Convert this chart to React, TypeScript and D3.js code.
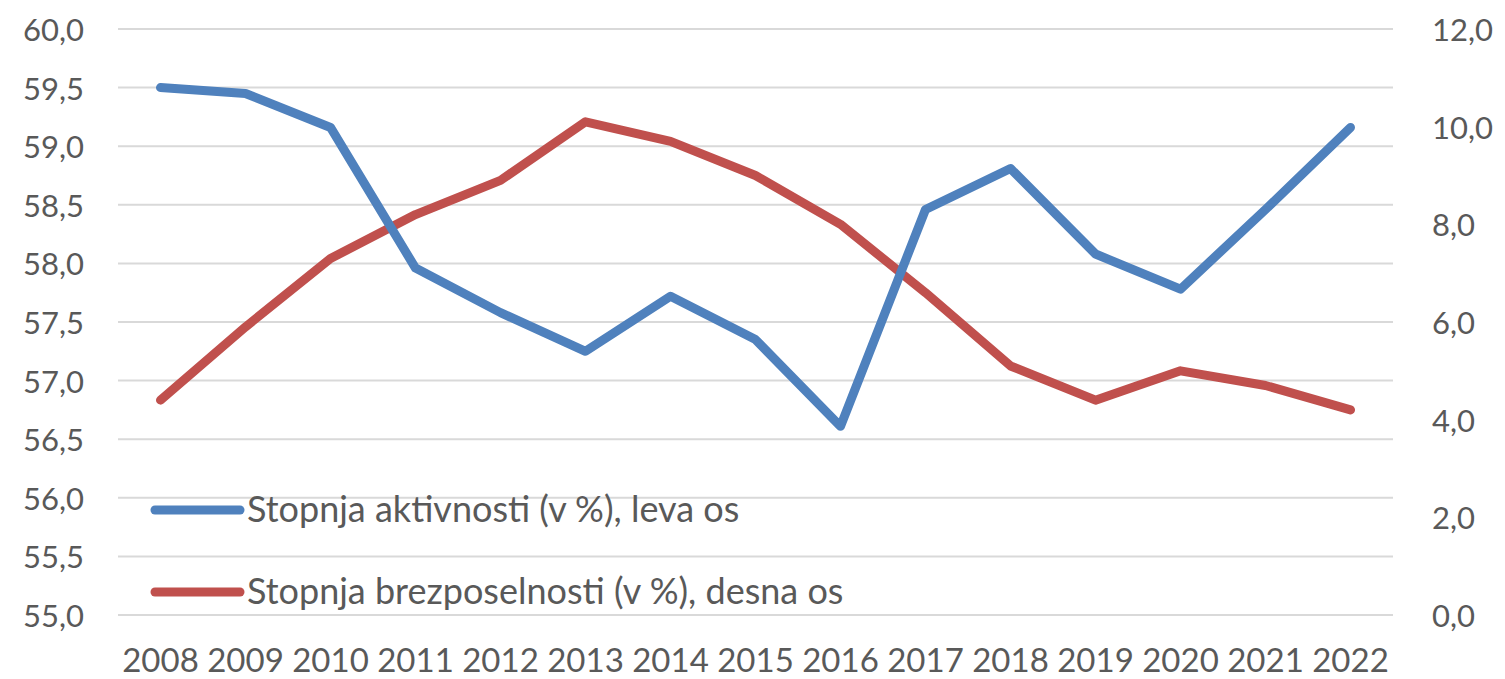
import * as d3 from 'd3'

const YEARS = ['2008', '2009', '2010', '2011', '2012', '2013', '2014', '2015', '2016', '2017', '2018', '2019', '2020', '2021', '2022']
const ACTIVITY = [59.5, 59.45, 59.16, 57.96, 57.58, 57.25, 57.72, 57.35, 56.61, 58.46, 58.81, 58.08, 57.78, 58.46, 59.16]
const UNEMPLOYMENT = [4.4, 5.9, 7.3, 8.2, 8.9, 10.1, 9.7, 9.0, 8.0, 6.6, 5.1, 4.4, 5.0, 4.7, 4.2]
const LEFT_TICKS = [55, 55.5, 56, 56.5, 57, 57.5, 58, 58.5, 59, 59.5, 60]
const RIGHT_TICKS = [0, 2, 4, 6, 8, 10, 12]
const LEGEND = ['Stopnja aktivnosti (v %), leva os', 'Stopnja brezposelnosti (v %), desna os']

const W = 1505
const H = 679
const BLUE = '#4f81bd'
const RED = '#c0504d'
const TEXT = '#595959'
const FONT = 'Lato, "Open Sans", sans-serif'

const fmt = (v: number) => v.toFixed(1).replace('.', ',')

export default function App() {
  const left = 118
  const right = 1393
  const top = 29
  const bottom = 615

  const x = d3.scaleBand<string>().domain(YEARS).range([left, right])
  const cx = (yr: string) => (x(yr) ?? 0) + x.bandwidth() / 2
  const yL = d3.scaleLinear().domain([55, 60]).range([bottom, top])
  const yR = d3.scaleLinear().domain([0, 12]).range([bottom, top])

  const blueLine = d3
    .line<number>()
    .x((_, i) => cx(YEARS[i]))
    .y((d) => yL(d))
  const redLine = d3
    .line<number>()
    .x((_, i) => cx(YEARS[i]))
    .y((d) => yR(d))

  return (
    <svg
      width={W}
      height={H}
      style={{ position: 'absolute', left: 0, top: 0, background: '#fff' }}
      fontFamily={FONT}
    >
      {/* grid */}
      {LEFT_TICKS.map((t) => (
        <line key={t} x1={left} x2={right} y1={yL(t)} y2={yL(t)} stroke="#d9d9d9" strokeWidth={2} />
      ))}

      {/* left axis */}
      {LEFT_TICKS.map((t) => (
        <text key={t} x={84} y={yL(t) + 12} textAnchor="end" fontSize={31} fill={TEXT}>
          {fmt(t)}
        </text>
      ))}

      {/* right axis */}
      {RIGHT_TICKS.map((t) => (
        <text key={t} x={1432} y={yR(t) + 12} textAnchor="start" fontSize={31} fill={TEXT}>
          {fmt(t)}
        </text>
      ))}

      {/* x axis labels */}
      {YEARS.map((yr) => (
        <text key={yr} x={cx(yr)} y={672} textAnchor="middle" fontSize={33} fill={TEXT}>
          {yr}
        </text>
      ))}

      {/* series */}
      <path d={redLine(UNEMPLOYMENT) ?? ''} fill="none" stroke={RED} strokeWidth={9} strokeLinecap="round" strokeLinejoin="round" />
      <path d={blueLine(ACTIVITY) ?? ''} fill="none" stroke={BLUE} strokeWidth={9} strokeLinecap="round" strokeLinejoin="round" />

      {/* legend */}
      {LEGEND.map((label, i) => {
        const ly = i === 0 ? 510 : 592
        return (
          <g key={label}>
            <line x1={155} x2={240} y1={ly} y2={ly} stroke={i === 0 ? BLUE : RED} strokeWidth={9} strokeLinecap="round" />
            <text x={247} y={ly + 12} fontSize={36} fill={TEXT}>
              {label}
            </text>
          </g>
        )
      })}
    </svg>
  )
}
